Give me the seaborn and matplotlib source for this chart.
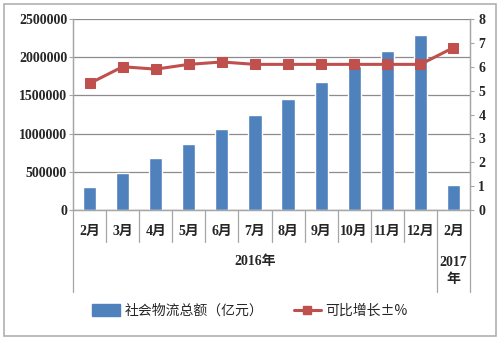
import matplotlib
matplotlib.use("Agg")
import matplotlib.pyplot as plt
import seaborn as sns
import pandas as pd
from matplotlib.lines import Line2D
from matplotlib.patches import Patch, Rectangle
import matplotlib.transforms as mtransforms

sns.set_style("white")
plt.rcParams['font.family'] = ['Liberation Serif', 'Noto Sans CJK SC']

months = ["2月", "3月", "4月", "5月", "6月", "7月", "8月", "9月", "10月", "11月", "12月", "2月"]
years = ["2016年", "2017\n年"]
total = [300000, 490000, 680000, 860000, 1065000, 1245000, 1455000, 1670000, 1880000, 2080000, 2290000, 330000]
growth = [5.3, 6.0, 5.9, 6.1, 6.2, 6.1, 6.1, 6.1, 6.1, 6.1, 6.1, 6.8]
bar_label = "社会物流总额（亿元）"
line_label = "可比增长±%"

df = pd.DataFrame({"pos": list(range(len(months))), "total": total, "growth": growth})

bar_color = "#4F81BD"
line_color = "#C0504D"
grid_color = "#8C8C8C"
axis_color = "#A6A6A6"

fig = plt.figure(figsize=(5, 3.4), dpi=100)
ax = fig.add_axes([73/500, 1-210/340, (470-73)/500, 191/340])

sns.barplot(data=df, x="pos", y="total", color=bar_color, width=0.4, ax=ax,
            saturation=1, order=df["pos"].tolist())
ax.set_ylim(0, 2500000)
ax.set_yticks(range(0, 2500001, 500000))
ax.set_yticklabels([str(v) for v in range(0, 2500001, 500000)], fontsize=10, fontweight="bold")
ax.set_xlim(-0.5, len(months)-0.5)
ax.grid(axis="y", color=grid_color, lw=0.9)
ax.set_axisbelow(True)
ax.set_xlabel("")
ax.set_ylabel("")
ax.set_xticks(range(len(months)))
ax.set_xticklabels([])
ax.tick_params(axis="x", length=0)
ax.tick_params(axis="y", length=3, width=0.8, color=axis_color, direction="out", pad=1.2)
ax.spines["top"].set_visible(False)
for s in ["left", "right", "bottom"]:
    ax.spines[s].set_color(axis_color)
    ax.spines[s].set_linewidth(0.9)

ax2 = ax.twinx()
sns.lineplot(data=df, x="pos", y="growth", color=line_color, lw=2.2, marker="s",
             markersize=7.5, markeredgecolor=line_color, ax=ax2, sort=False)
ax2.set_ylim(0, 8)
ax2.set_yticks(range(0, 9))
ax2.set_yticklabels([str(v) for v in range(0, 9)], fontsize=10, fontweight="bold")
ax2.set_ylabel("")
ax2.set_xlabel("")
ax2.tick_params(axis="y", length=3, width=0.8, color=axis_color, direction="out", pad=3)
ax2.spines["top"].set_visible(False)
for s in ["left", "right", "bottom"]:
    ax2.spines[s].set_color(axis_color)
    ax2.spines[s].set_linewidth(0.9)
ax2.set_xlim(-0.5, len(months)-0.5)

# multi-level category axis
trans = mtransforms.blended_transform_factory(ax.transData, ax.transAxes)
ah = 191.0
y_row1 = -32/ah
y_row2 = -82/ah
for i, m in enumerate(months):
    ax.text(i, -21/ah, m, transform=trans, ha="center", va="center",
            fontsize=10, fontweight="bold", family=['Liberation Serif', 'Noto Sans CJK SC'])
for i in range(len(months)+1):
    b = i - 0.5
    bottom = y_row2 if b in (-0.5, 10.5, len(months)-0.5) else y_row1
    ax.add_line(Line2D([b, b], [0, bottom], transform=trans, color=axis_color,
                       lw=0.9, clip_on=False))
ax.text(5, -52/ah, years[0], transform=trans, ha="center", va="center",
        fontsize=10, fontweight="bold", family=['Liberation Serif', 'Noto Sans CJK SC'])
ax.text(11, -61/ah, years[1], transform=trans, ha="center", va="center",
        fontsize=10, fontweight="bold", linespacing=1.3,
        family=['Liberation Serif', 'Noto Sans CJK SC'])

# legend
handles = [Patch(facecolor=bar_color, edgecolor=bar_color),
           Line2D([0], [0], color=line_color, lw=2.2, marker="s", markersize=6)]
leg = fig.legend(handles, [bar_label, line_label], loc="center",
                 bbox_to_anchor=(0.5, 1-311/340), ncol=2, frameon=False,
                 prop={"family": ["Noto Sans CJK SC"], "size": 10},
                 handlelength=2.0, handleheight=0.9, columnspacing=2.2, handletextpad=0.3)

# outer border
fig.patches.append(Rectangle((4/500, 4/340), 492/500, 332/340, transform=fig.transFigure,
                             fill=False, edgecolor="#B0B0B0", lw=1.2))

fig.savefig("out.png", dpi=100, facecolor="white")
